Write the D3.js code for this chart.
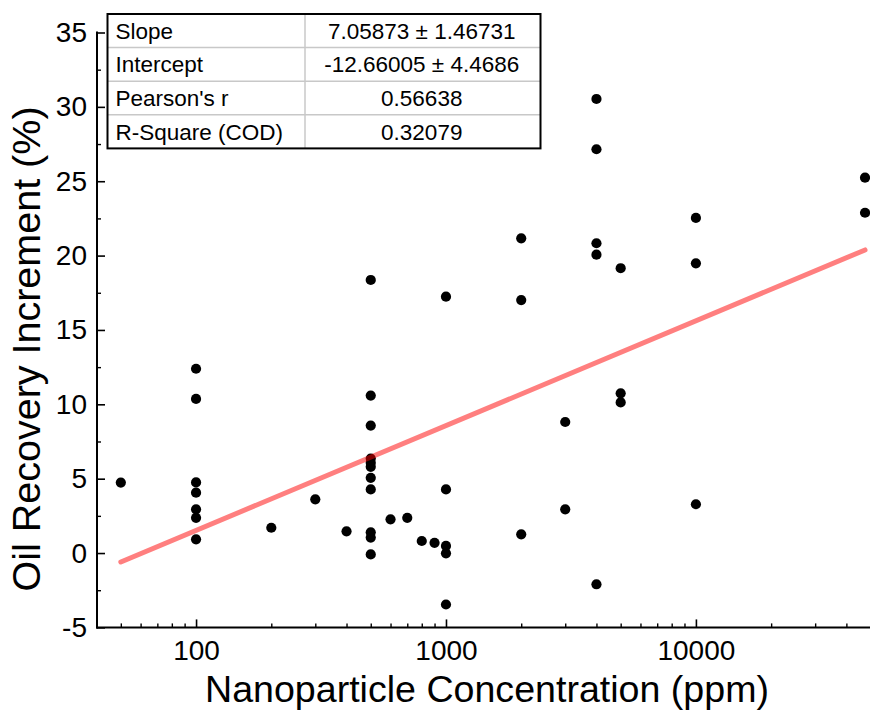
<!DOCTYPE html>
<html>
<head>
<meta charset="utf-8">
<script src="https://cdn.jsdelivr.net/npm/d3@7"></script>
<style>
  html, body { margin: 0; padding: 0; background: #fff; }
  svg { display: block; font-family: "Liberation Sans", Arial, sans-serif; }
</style>
</head>
<body>
<svg id="chart" width="870" height="712"></svg>
<script>
// ---- data ----
const concentration = [
  50,
  100, 100, 100, 100, 100, 100, 100,
  200, 300, 400,
  500, 500, 500, 500, 500, 500, 500, 500, 500, 500, 500,
  600, 700, 800, 900,
  1000, 1000, 1000, 1000, 1000,
  2000, 2000, 2000,
  3000, 3000,
  4000, 4000, 4000, 4000, 4000,
  5000, 5000, 5000,
  10000, 10000, 10000,
  47500, 47500
];
const recovery = [
  4.74,
  12.39, 10.36, 4.75, 4.06, 2.94, 2.37, 0.92,
  1.70, 3.61, 1.46,
  18.36, 10.59, 8.57, 6.35, 6.07, 5.80, 5.06, 4.28, 1.39, 1.04, -0.09,
  2.27, 2.37, 0.81, 0.69,
  17.24, 4.28, 0.48, -0.02, -3.46,
  21.16, 17.01, 1.26,
  8.81, 2.94,
  30.53, 27.15, 20.83, 20.06, -2.10,
  19.15, 10.74, 10.13,
  22.53, 19.48, 3.28,
  25.24, 22.88
];
const fitX = [50, 47500];
const fitY = [-0.6, 20.38];

const xMajorTicks = [100, 1000, 10000];
const xMinorTicks = [50, 60, 70, 80, 90, 200, 300, 400, 500, 600, 700, 800, 900,
  2000, 3000, 4000, 5000, 6000, 7000, 8000, 9000, 20000, 30000, 40000];
const yMajorTicks = [-5, 0, 5, 10, 15, 20, 25, 30, 35];
const yMinorTicks = [-2.5, 2.5, 7.5, 12.5, 17.5, 22.5, 27.5, 32.5];

const statNames = ["Slope", "Intercept", "Pearson's r", "R-Square (COD)"];
const statValues = ["7.05873 \u00b1 1.46731", "-12.66005 \u00b1 4.4686", "0.56638", "0.32079"];

const xTitle = "Nanoparticle Concentration (ppm)";
const yTitle = "Oil Recovery Increment (%)";

// ---- layout ----
const svg = d3.select("#chart");
const plotL = 97, plotR = 870, plotT = 32.5, plotB = 627.4;

const x = d3.scaleLog().domain([40, 50000]).range([96.6, 870.6]);
const y = d3.scaleLinear().domain([-5, 35]).range([plotB, plotT]);

// points
svg.append("g").selectAll("circle")
  .data(concentration.map((c, i) => [c, recovery[i]]))
  .join("circle")
  .attr("cx", d => x(d[0]))
  .attr("cy", d => y(d[1]))
  .attr("r", 5.1)
  .attr("fill", "#000");

// fit line (semi-transparent red, drawn over points)
svg.append("path")
  .datum(fitX.map((v, i) => [v, fitY[i]]))
  .attr("d", d3.line().x(d => x(d[0])).y(d => y(d[1])))
  .attr("fill", "none")
  .attr("stroke", "#ff0000")
  .attr("stroke-opacity", 0.5)
  .attr("stroke-width", 5)
  .attr("stroke-linecap", "round");

const plainFmt = d => String(d);

// x axis
const gx = svg.append("g").attr("transform", `translate(0,${plotB})`);
gx.call(d3.axisBottom(x).tickValues(xMajorTicks).tickFormat(plainFmt)
  .tickSize(-8).tickPadding(13));
gx.select(".domain").remove();
gx.selectAll(".tick line").attr("stroke", "#000").attr("stroke-width", 1.6);
gx.selectAll(".tick text").attr("font-size", 28).attr("font-family", "Liberation Sans, Arial, sans-serif").attr("fill", "#000");

const gxm = svg.append("g").attr("transform", `translate(0,${plotB})`);
gxm.call(d3.axisBottom(x).tickValues(xMinorTicks).tickFormat("").tickSize(-4));
gxm.select(".domain").remove();
gxm.selectAll(".tick line").attr("stroke", "#000").attr("stroke-width", 1.4);

// y axis
const gy = svg.append("g").attr("transform", `translate(${plotL},0)`);
gy.call(d3.axisLeft(y).tickValues(yMajorTicks).tickFormat(plainFmt).tickSize(-8).tickPadding(10));
gy.select(".domain").remove();
gy.selectAll(".tick line").attr("stroke", "#000").attr("stroke-width", 1.6);
gy.selectAll(".tick text").attr("font-size", 28).attr("font-family", "Liberation Sans, Arial, sans-serif").attr("fill", "#000");

const gym = svg.append("g").attr("transform", `translate(${plotL},0)`);
gym.call(d3.axisLeft(y).tickValues(yMinorTicks).tickFormat("").tickSize(-4));
gym.select(".domain").remove();
gym.selectAll(".tick line").attr("stroke", "#000").attr("stroke-width", 1.4);

// axis lines
svg.append("line").attr("x1", plotL).attr("x2", plotL).attr("y1", plotT - 1).attr("y2", plotB + 1)
  .attr("stroke", "#000").attr("stroke-width", 2);
svg.append("line").attr("x1", plotL - 1).attr("x2", plotR).attr("y1", plotB).attr("y2", plotB)
  .attr("stroke", "#000").attr("stroke-width", 2);

// axis titles
svg.append("text")
  .attr("x", 487).attr("y", 702)
  .attr("text-anchor", "middle")
  .attr("font-size", 37.6)
  .attr("fill", "#000")
  .text(xTitle);

svg.append("text")
  .attr("transform", "translate(40,349) rotate(-90)")
  .attr("text-anchor", "middle")
  .attr("font-size", 39.5)
  .attr("fill", "#000")
  .text(yTitle);

// stats table
const tX0 = 107.5, tX1 = 540.5, tColX = 305, tY0 = 14, rowH = 33.6;
const tbl = svg.append("g");
tbl.append("rect").attr("x", tX0).attr("y", tY0).attr("width", tX1 - tX0).attr("height", rowH * statNames.length)
  .attr("fill", "#fff");
statNames.forEach((name, i) => {
  if (i > 0) {
    tbl.append("line").attr("x1", tX0).attr("x2", tX1)
      .attr("y1", tY0 + rowH * i).attr("y2", tY0 + rowH * i)
      .attr("stroke", "#c8c8c8").attr("stroke-width", 1.5);
  }
  tbl.append("text").attr("x", tX0 + 8).attr("y", tY0 + rowH * i + rowH / 2 + 8)
    .attr("font-size", 22.5).attr("fill", "#000").text(name);
  tbl.append("text").attr("x", (tColX + tX1) / 2 - 1).attr("y", tY0 + rowH * i + rowH / 2 + 8)
    .attr("text-anchor", "middle")
    .attr("font-size", 22.5).attr("fill", "#000").text(statValues[i]);
});
tbl.append("line").attr("x1", tColX).attr("x2", tColX).attr("y1", tY0).attr("y2", tY0 + rowH * statNames.length)
  .attr("stroke", "#c8c8c8").attr("stroke-width", 1.5);
tbl.append("rect").attr("x", tX0).attr("y", tY0).attr("width", tX1 - tX0).attr("height", rowH * statNames.length)
  .attr("fill", "none").attr("stroke", "#000").attr("stroke-width", 2);
</script>
</body>
</html>
